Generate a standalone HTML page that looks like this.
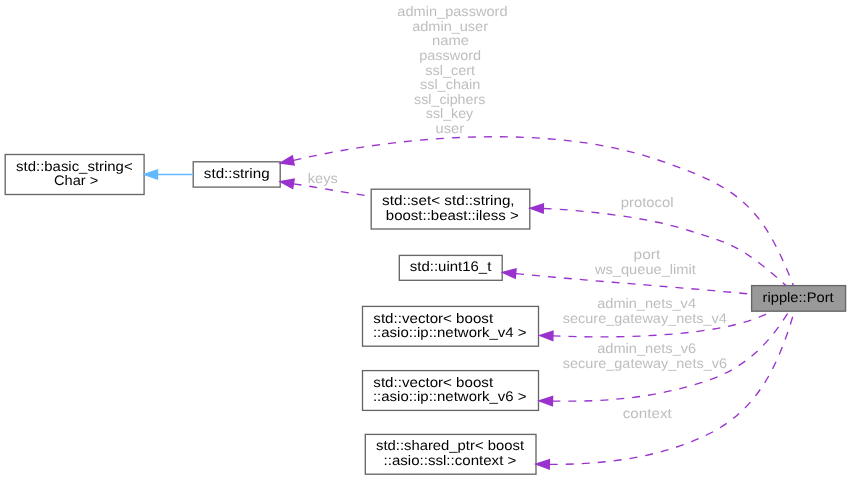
<!DOCTYPE html><html><head><meta charset="utf-8"><style>html,body{margin:0;padding:0;background:#fff;width:851px;height:480px;overflow:hidden}svg{display:block;will-change:transform}text{text-rendering:geometricPrecision;font-family:"Liberation Sans",sans-serif;font-size:13.80px}</style></head><body>
<svg width="851" height="480" viewBox="0 0 851 480">
<rect width="851" height="480" fill="#fff"/>
<rect x="5.2" y="154.5" width="138.90" height="40.00" fill="#fff" stroke="#666666" stroke-width="1.33"/>
<rect x="193.2" y="161.8" width="87.00" height="25.30" fill="#fff" stroke="#666666" stroke-width="1.33"/>
<rect x="371.2" y="189.2" width="158.60" height="39.80" fill="#fff" stroke="#666666" stroke-width="1.33"/>
<rect x="399.3" y="255.4" width="102.90" height="24.90" fill="#fff" stroke="#666666" stroke-width="1.33"/>
<rect x="362.5" y="306.4" width="176.00" height="39.80" fill="#fff" stroke="#666666" stroke-width="1.33"/>
<rect x="362.5" y="370.6" width="176.00" height="39.80" fill="#fff" stroke="#666666" stroke-width="1.33"/>
<rect x="365.3" y="434.4" width="170.70" height="39.80" fill="#fff" stroke="#666666" stroke-width="1.33"/>
<rect x="751.6" y="285.6" width="94.00" height="25.60" fill="#999999" stroke="#666666" stroke-width="1.33"/>
<path d="M 157.5,174.5 L 193.3,174.5" fill="none" stroke="#63b8ff" stroke-width="1.33"/>
<polygon points="144.2,174.5 157.5,169.83 157.5,179.17" fill="#63b8ff" stroke="#63b8ff" stroke-width="1.33"/>
<path d="M 293.30,160.40 C 409.48,133.54 554.11,124.84 656.65,159.45 C 737.45,186.71 761.47,204.08 793.40,285.50" fill="none" stroke="#9a32cd" stroke-width="1.33" stroke-dasharray="8,8" stroke-dashoffset="-0.3"/>
<path d="M 293.5,183.8 C 319.5,187.5 345.2,192.9 371.3,196.2" fill="none" stroke="#9a32cd" stroke-width="1.33" stroke-dasharray="8,8" stroke-dashoffset="0"/>
<path d="M 543.60,208.50 C 585.80,210.37 647.70,217.11 689.70,230.75 C 725.57,242.39 738.48,242.61 786.00,285.60" fill="none" stroke="#9a32cd" stroke-width="1.33" stroke-dasharray="8,8" stroke-dashoffset="-0.2"/>
<path d="M 516.0,273.6 C 594.5,281.4 673.2,286.6 751.7,294.2" fill="none" stroke="#9a32cd" stroke-width="1.33" stroke-dasharray="8,8" stroke-dashoffset="0"/>
<path d="M 552.90,335.80 C 610.16,338.44 724.04,338.08 771.00,311.50" fill="none" stroke="#9a32cd" stroke-width="1.33" stroke-dasharray="8,8" stroke-dashoffset="0.3"/>
<path d="M 552.70,401.10 C 606.64,401.93 651.28,398.12 701.14,382.69 C 735.77,371.97 762.59,353.89 788.90,311.50" fill="none" stroke="#9a32cd" stroke-width="1.33" stroke-dasharray="8,8" stroke-dashoffset="0.4"/>
<path d="M 549.70,464.30 C 601.24,464.84 661.36,458.07 710.17,433.24 C 758.10,408.86 778.39,365.45 794.30,311.50" fill="none" stroke="#9a32cd" stroke-width="1.33" stroke-dasharray="8,8" stroke-dashoffset="-0.1"/>
<polygon points="280.20,163.00 294.18,164.99 292.37,155.82" fill="#9a32cd" stroke="#9a32cd" stroke-width="1.33"/>
<polygon points="280.30,181.60 292.68,188.40 294.22,179.18" fill="#9a32cd" stroke="#9a32cd" stroke-width="1.33"/>
<polygon points="530.00,208.20 543.22,213.16 543.43,203.83" fill="#9a32cd" stroke="#9a32cd" stroke-width="1.33"/>
<polygon points="502.40,272.40 515.27,278.22 516.09,268.92" fill="#9a32cd" stroke="#9a32cd" stroke-width="1.33"/>
<polygon points="539.60,335.50 552.82,340.47 553.03,331.13" fill="#9a32cd" stroke="#9a32cd" stroke-width="1.33"/>
<polygon points="539.20,400.80 552.42,405.76 552.63,396.43" fill="#9a32cd" stroke="#9a32cd" stroke-width="1.33"/>
<polygon points="536.00,464.10 549.26,468.96 549.40,459.63" fill="#9a32cd" stroke="#9a32cd" stroke-width="1.33"/>
<text x="16.09" y="170.60" fill="#000" textLength="116.55" lengthAdjust="spacingAndGlyphs">std::basic_string&lt;</text>
<text x="53.97" y="184.80" fill="#000" textLength="44.25" lengthAdjust="spacingAndGlyphs">Char &gt;</text>
<text x="203.88" y="178.00" fill="#000" textLength="65.72" lengthAdjust="spacingAndGlyphs">std::string</text>
<text x="382.08" y="205.00" fill="#000" textLength="132.51" lengthAdjust="spacingAndGlyphs">std::set&lt; std::string,</text>
<text x="385.83" y="219.50" fill="#000" textLength="132.81" lengthAdjust="spacingAndGlyphs">boost::beast::iless &gt;</text>
<text x="409.79" y="271.30" fill="#000" textLength="81.54" lengthAdjust="spacingAndGlyphs">std::uint16_t</text>
<text x="373.33" y="322.80" fill="#000" textLength="119.80" lengthAdjust="spacingAndGlyphs">std::vector&lt; boost</text>
<text x="372.95" y="337.00" fill="#000" textLength="153.57" lengthAdjust="spacingAndGlyphs">::asio::ip::network_v4 &gt;</text>
<text x="373.33" y="387.00" fill="#000" textLength="119.80" lengthAdjust="spacingAndGlyphs">std::vector&lt; boost</text>
<text x="372.95" y="401.20" fill="#000" textLength="153.57" lengthAdjust="spacingAndGlyphs">::asio::ip::network_v6 &gt;</text>
<text x="375.99" y="450.40" fill="#000" textLength="148.04" lengthAdjust="spacingAndGlyphs">std::shared_ptr&lt; boost</text>
<text x="383.54" y="464.90" fill="#000" textLength="132.81" lengthAdjust="spacingAndGlyphs">::asio::ssl::context &gt;</text>
<text x="762.54" y="301.90" fill="#000" textLength="71.18" lengthAdjust="spacingAndGlyphs">ripple::Port</text>
<text x="397.38" y="16.00" fill="#bebebe" textLength="110.16" lengthAdjust="spacingAndGlyphs">admin_password</text>
<text x="412.18" y="30.63" fill="#bebebe" textLength="75.84" lengthAdjust="spacingAndGlyphs">admin_user</text>
<text x="432.00" y="45.26" fill="#bebebe" textLength="36.95" lengthAdjust="spacingAndGlyphs">name</text>
<text x="419.16" y="59.89" fill="#bebebe" textLength="61.98" lengthAdjust="spacingAndGlyphs">password</text>
<text x="425.30" y="74.52" fill="#bebebe" textLength="49.81" lengthAdjust="spacingAndGlyphs">ssl_cert</text>
<text x="419.90" y="89.15" fill="#bebebe" textLength="60.43" lengthAdjust="spacingAndGlyphs">ssl_chain</text>
<text x="414.11" y="103.78" fill="#bebebe" textLength="71.18" lengthAdjust="spacingAndGlyphs">ssl_ciphers</text>
<text x="425.81" y="118.41" fill="#bebebe" textLength="47.42" lengthAdjust="spacingAndGlyphs">ssl_key</text>
<text x="435.55" y="133.04" fill="#bebebe" textLength="28.58" lengthAdjust="spacingAndGlyphs">user</text>
<text x="307.82" y="182.80" fill="#bebebe" textLength="29.91" lengthAdjust="spacingAndGlyphs">keys</text>
<text x="620.74" y="207.20" fill="#bebebe" textLength="52.77" lengthAdjust="spacingAndGlyphs">protocol</text>
<text x="633.60" y="259.40" fill="#bebebe" textLength="26.63" lengthAdjust="spacingAndGlyphs">port</text>
<text x="594.94" y="274.00" fill="#bebebe" textLength="100.88" lengthAdjust="spacingAndGlyphs">ws_queue_limit</text>
<text x="597.18" y="308.00" fill="#bebebe" textLength="98.82" lengthAdjust="spacingAndGlyphs">admin_nets_v4</text>
<text x="562.80" y="322.70" fill="#bebebe" textLength="164.01" lengthAdjust="spacingAndGlyphs">secure_gateway_nets_v4</text>
<text x="597.18" y="352.80" fill="#bebebe" textLength="99.04" lengthAdjust="spacingAndGlyphs">admin_nets_v6</text>
<text x="562.80" y="367.50" fill="#bebebe" textLength="164.23" lengthAdjust="spacingAndGlyphs">secure_gateway_nets_v6</text>
<text x="622.65" y="418.40" fill="#bebebe" textLength="49.20" lengthAdjust="spacingAndGlyphs">context</text>
</svg></body></html>
